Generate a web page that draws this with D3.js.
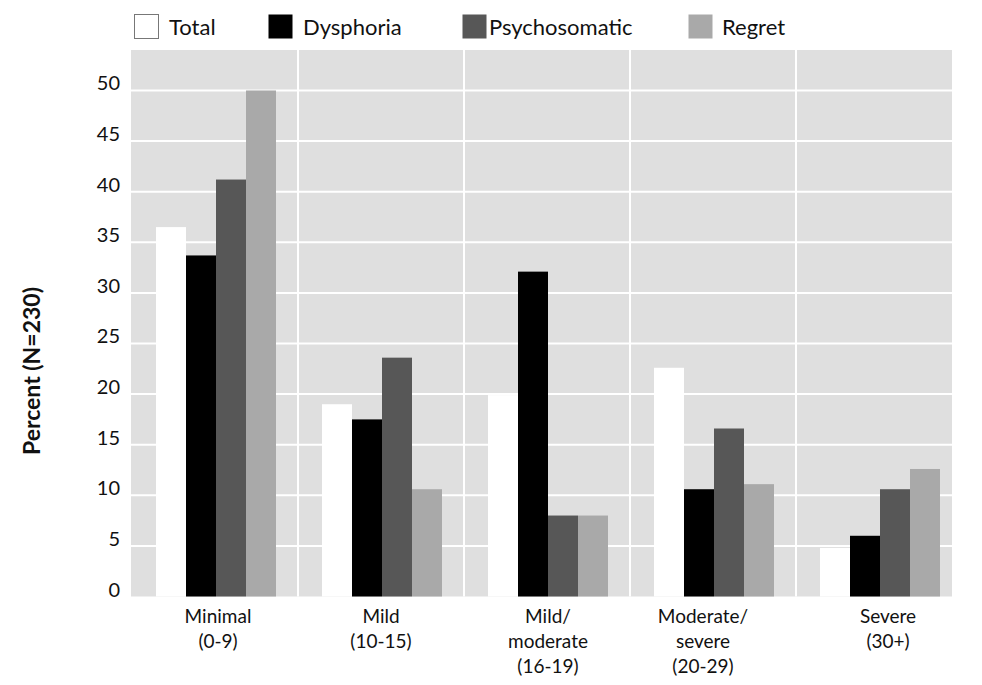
<!DOCTYPE html>
<head>
  <meta charset="utf-8">
  <title>Percent by severity group</title>
  <script src="https://cdn.jsdelivr.net/npm/d3@7/dist/d3.min.js"></script>
  <style>
    body { margin: 0; background: #fff; }
    svg text { font-family: "Lato", "Open Sans", sans-serif; fill: #111; }
  </style>
</head>
<body>
<div id="chart"></div>
<script>
// data
const categories = ['Minimal', 'Mild', 'Mild/moderate', 'Moderate/severe', 'Severe'];
const catLabels = [
  ['Minimal', '(0-9)'],
  ['Mild', '(10-15)'],
  ['Mild/', 'moderate', '(16-19)'],
  ['Moderate/', 'severe', '(20-29)'],
  ['Severe', '(30+)']
];
const series = ['Total', 'Dysphoria', 'Psychosomatic', 'Regret'];
const total         = [36.5, 19.0, 19.9, 22.6, 4.8];
const dysphoria     = [33.7, 17.5, 32.1, 10.6, 6.0];
const psychosomatic = [41.2, 23.6, 8.0, 16.6, 10.6];
const regret        = [50.0, 10.6, 8.0, 11.1, 12.6];
const yTicks = [0, 5, 10, 15, 20, 25, 30, 35, 40, 45, 50];

const colors = { Total: '#ffffff', Dysphoria: '#000000', Psychosomatic: '#575757', Regret: '#a9a9a9' };
const valuesBySeries = { Total: total, Dysphoria: dysphoria, Psychosomatic: psychosomatic, Regret: regret };

const width = 982, height = 685;
const plot = { left: 131, right: 952, top: 50, bottom: 596.5 };

const svg = d3.select('#chart').append('svg')
  .attr('width', width)
  .attr('height', height);

const y = d3.scaleLinear().domain([0, 54]).range([plot.bottom, plot.top]);
const x0 = d3.scaleBand().domain(categories).range([132, 962]).padding(0);
const groupW = 120;
const x1 = d3.scaleBand().domain(series).range([0, groupW]).padding(0);

// background
svg.append('rect')
  .attr('x', plot.left).attr('y', plot.top)
  .attr('width', plot.right - plot.left)
  .attr('height', plot.bottom - plot.top)
  .attr('fill', '#dfdfdf');

// grid
svg.append('g').selectAll('line.h')
  .data(yTicks.filter(d => d > 0))
  .enter().append('line')
  .attr('x1', plot.left).attr('x2', plot.right)
  .attr('y1', d => y(d)).attr('y2', d => y(d))
  .attr('stroke', '#fff').attr('stroke-width', 2);

svg.append('g').selectAll('line.v')
  .data(categories.slice(1))
  .enter().append('line')
  .attr('x1', d => x0(d)).attr('x2', d => x0(d))
  .attr('y1', plot.top).attr('y2', plot.bottom)
  .attr('stroke', '#fff').attr('stroke-width', 2);

// bars
const groups = svg.append('g').selectAll('g')
  .data(categories)
  .enter().append('g')
  .attr('transform', d => `translate(${x0(d) + (x0.bandwidth() - groupW) / 2 + 1},0)`);

groups.selectAll('rect')
  .data((c, i) => series.map(s => ({ s, v: valuesBySeries[s][i] })))
  .enter().append('rect')
  .attr('x', d => x1(d.s))
  .attr('width', x1.bandwidth())
  .attr('y', d => y(d.v))
  .attr('height', d => y(0) - y(d.v))
  .attr('fill', d => colors[d.s]);

// y tick labels (baseline sits on the grid line)
svg.append('g').selectAll('text')
  .data(yTicks)
  .enter().append('text')
  .attr('x', 120)
  .attr('y', d => y(d))
  .attr('text-anchor', 'end')
  .style('font-size', '20px')
  .text(d => d);

// x labels
const labelShift = [3, 0, 1, -10, 9];
svg.append('g').selectAll('text')
  .data(categories)
  .enter().append('text')
  .attr('text-anchor', 'middle')
  .style('font-size', '19px')
  .each(function (d, i) {
    const cx = x0(d) + x0.bandwidth() / 2 + labelShift[i];
    d3.select(this).selectAll('tspan')
      .data(catLabels[i])
      .enter().append('tspan')
      .attr('x', cx)
      .attr('y', (t, j) => 623 + j * 25)
      .text(t => t);
  });

// y title
svg.append('text')
  .attr('transform', 'translate(40,371) rotate(-90)')
  .attr('text-anchor', 'middle')
  .style('font-size', '23px')
  .style('font-weight', 'bold')
  .text('Percent (N=230)');

// legend
const legendX = [134, 268, 462, 688];
const legendTextX = [169, 303, 489, 722];
const legend = svg.append('g');
series.forEach((s, i) => {
  legend.append('rect')
    .attr('x', legendX[i] + 0.5).attr('y', 14.5)
    .attr('width', 24).attr('height', 24)
    .attr('fill', colors[s])
    .attr('stroke', s === 'Total' ? '#777' : 'none')
    .attr('stroke-width', 1);
  legend.append('text')
    .attr('x', legendTextX[i])
    .attr('y', 35)
    .style('font-size', '22px')
    .text(s);
});
</script>
</body>
